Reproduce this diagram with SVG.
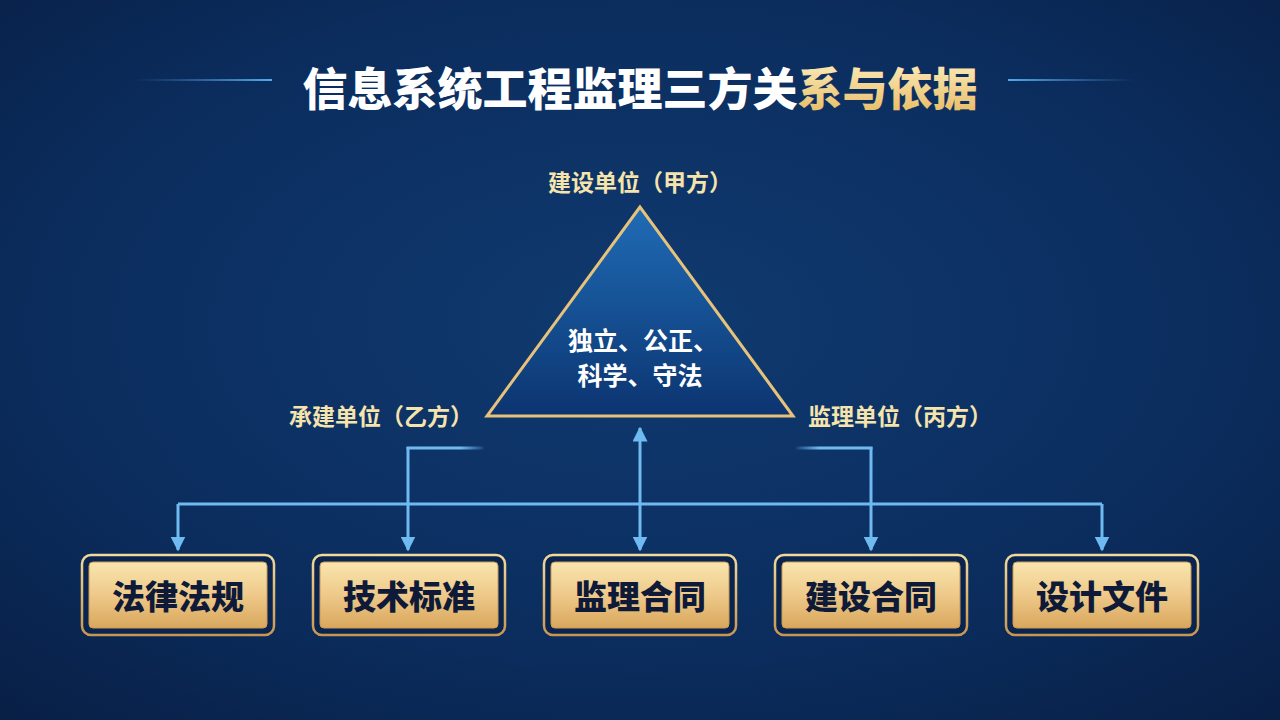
<svg xmlns="http://www.w3.org/2000/svg" width="1280" height="720" viewBox="0 0 1280 720">
<defs>
<radialGradient id="bg" cx="50%" cy="45%" r="75%">
<stop offset="0" stop-color="#103a70"/>
<stop offset="0.6" stop-color="#0b2d5e"/>
<stop offset="1" stop-color="#081f45"/>
</radialGradient>
<linearGradient id="tri" x1="0" y1="0" x2="0" y2="1">
<stop offset="0" stop-color="#1f6cb6"/>
<stop offset="1" stop-color="#0c3470"/>
</linearGradient>
<linearGradient id="gold" x1="0" y1="0" x2="0" y2="1">
<stop offset="0" stop-color="#f9e6ae"/>
<stop offset="0.5" stop-color="#eec98a"/>
<stop offset="1" stop-color="#d9a75c"/>
</linearGradient>
<linearGradient id="goldEdge" x1="0" y1="0" x2="0" y2="1">
<stop offset="0" stop-color="#f3d99a"/>
<stop offset="1" stop-color="#c8974f"/>
</linearGradient>
<linearGradient id="titleGold" x1="0" y1="0" x2="0" y2="1">
<stop offset="0" stop-color="#fff1c4"/>
<stop offset="1" stop-color="#e6b85e"/>
</linearGradient>
<linearGradient id="tlL" gradientUnits="userSpaceOnUse" x1="135" y1="0" x2="272" y2="0">
<stop offset="0" stop-color="#3d8fd6" stop-opacity="0"/>
<stop offset="1" stop-color="#5aa8e8"/>
</linearGradient>
<linearGradient id="tlR" gradientUnits="userSpaceOnUse" x1="1008" y1="0" x2="1135" y2="0">
<stop offset="0" stop-color="#5aa8e8"/>
<stop offset="1" stop-color="#3d8fd6" stop-opacity="0"/>
</linearGradient>
<linearGradient id="stubL" gradientUnits="userSpaceOnUse" x1="406" y1="0" x2="484" y2="0">
<stop offset="0" stop-color="#6fbaf0"/>
<stop offset="0.7" stop-color="#6fbaf0"/>
<stop offset="1" stop-color="#6fbaf0" stop-opacity="0.1"/>
</linearGradient>
<linearGradient id="stubR" gradientUnits="userSpaceOnUse" x1="796" y1="0" x2="873" y2="0">
<stop offset="0" stop-color="#6fbaf0" stop-opacity="0.1"/>
<stop offset="0.3" stop-color="#6fbaf0"/>
<stop offset="1" stop-color="#6fbaf0"/>
</linearGradient>
<marker id="arr" viewBox="0 0 10 10" refX="9" refY="5" markerWidth="5" markerHeight="5" orient="auto-start-reverse" markerUnits="strokeWidth">
<path d="M0,0 L10,5 L0,10 z" fill="#6fbaf0"/>
</marker>
<style>
.lbl{font-family:"Noto Sans CJK SC","Liberation Sans",sans-serif;font-weight:bold;font-size:23px;fill:#f6e4ad;text-anchor:middle;}
.box-o{fill:#0a2450;stroke:url(#goldEdge);stroke-width:2.5;}
.box-i{fill:url(#gold);stroke:#c99a52;stroke-width:1;}
.box-t{font-family:"Noto Sans CJK SC","Liberation Sans",sans-serif;font-weight:900;font-size:33px;fill:#0e1a38;text-anchor:middle;}
.conn{fill:none;stroke:#6fbaf0;stroke-width:3;}
</style>
</defs>
<rect width="1280" height="720" fill="url(#bg)"/>

<g id="title">
<rect x="135" y="79" width="137" height="2" fill="url(#tlL)"/>
<rect x="1008" y="79" width="127" height="2" fill="url(#tlR)"/>
<text x="640" y="106" text-anchor="middle" font-family="Noto Sans CJK SC, Liberation Sans, sans-serif" font-weight="900" font-size="45" fill="#ffffff">信息系统工程监理三方关<tspan fill="url(#titleGold)">系与依据</tspan></text>
</g>

<g id="triangle">
<polygon points="640,207 487,416 793,416" fill="url(#tri)" stroke="#e6c27a" stroke-width="3" stroke-linejoin="miter"/>
<text x="643" y="350" text-anchor="middle" font-family="Noto Sans CJK SC, Liberation Sans, sans-serif" font-weight="bold" font-size="25" fill="#ffffff">独立、公正、</text>
<text x="640" y="385" text-anchor="middle" font-family="Noto Sans CJK SC, Liberation Sans, sans-serif" font-weight="bold" font-size="25" fill="#ffffff">科学、守法</text>
</g>

<g id="party-a"><text class="lbl" x="640" y="191">建设单位（甲方）</text></g>
<g id="party-b"><text class="lbl" x="381" y="425">承建单位（乙方）</text></g>
<g id="party-c"><text class="lbl" x="900" y="425">监理单位（丙方）</text></g>

<g id="connectors">
<line x1="178" y1="504" x2="1102" y2="504" class="conn"/>
<path d="M178,504 V550" class="conn" marker-end="url(#arr)"/>
<path d="M1102,504 V550" class="conn" marker-end="url(#arr)"/>
<path d="M408,447 V550" class="conn" marker-end="url(#arr)"/>
<rect x="406.5" y="446.5" width="77" height="3" fill="url(#stubL)"/>
<path d="M871,447 V550" class="conn" marker-end="url(#arr)"/>
<rect x="796" y="446.5" width="76.5" height="3" fill="url(#stubR)"/>
<path d="M640,428 V550" class="conn" marker-start="url(#arr)" marker-end="url(#arr)"/>
</g>

<g id="box-1">
<rect class="box-o" x="82" y="555" width="192" height="80" rx="9"/>
<rect class="box-i" x="89" y="562" width="178" height="66" rx="4"/>
<text class="box-t" x="178" y="609">法律法规</text>
</g>
<g id="box-2">
<rect class="box-o" x="313" y="555" width="192" height="80" rx="9"/>
<rect class="box-i" x="320" y="562" width="178" height="66" rx="4"/>
<text class="box-t" x="409" y="609">技术标准</text>
</g>
<g id="box-3">
<rect class="box-o" x="544" y="555" width="192" height="80" rx="9"/>
<rect class="box-i" x="551" y="562" width="178" height="66" rx="4"/>
<text class="box-t" x="640" y="609">监理合同</text>
</g>
<g id="box-4">
<rect class="box-o" x="775" y="555" width="192" height="80" rx="9"/>
<rect class="box-i" x="782" y="562" width="178" height="66" rx="4"/>
<text class="box-t" x="871" y="609">建设合同</text>
</g>
<g id="box-5">
<rect class="box-o" x="1006" y="555" width="192" height="80" rx="9"/>
<rect class="box-i" x="1013" y="562" width="178" height="66" rx="4"/>
<text class="box-t" x="1102" y="609">设计文件</text>
</g>
</svg>
